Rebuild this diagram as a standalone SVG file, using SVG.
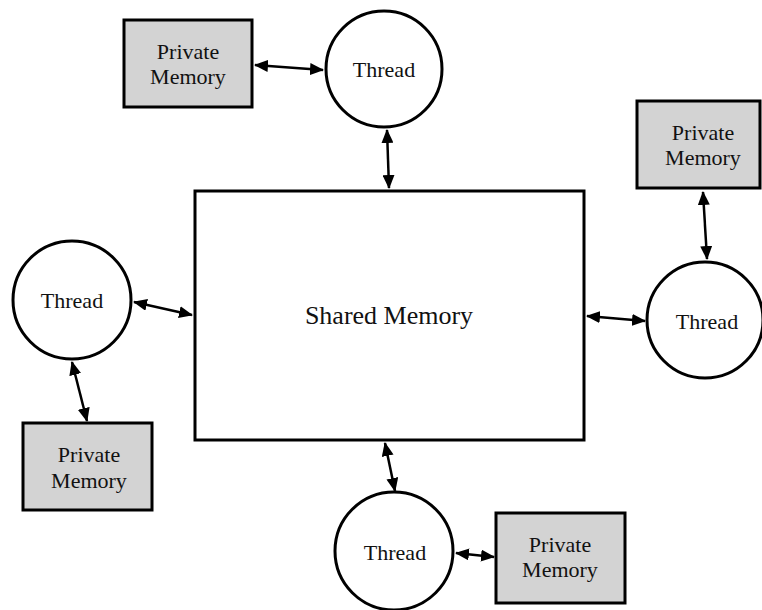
<svg xmlns="http://www.w3.org/2000/svg" width="762" height="610" viewBox="0 0 762 610">
  <defs>
    <marker id="head" viewBox="0 0 14 12" refX="13" refY="6" markerWidth="14" markerHeight="12" markerUnits="userSpaceOnUse" orient="auto-start-reverse">
      <path d="M0,0 L14,6 L0,12 z" fill="#000"/>
    </marker>
  </defs>
  <style>
    .thread { fill: #fff; stroke: #000; stroke-width: 3; }
    .private { fill: #d3d3d3; stroke: #000; stroke-width: 3; }
    .shared { fill: #fff; stroke: #000; stroke-width: 3; }
    .link { stroke: #000; stroke-width: 2.5; fill: none; marker-start: url(#head); marker-end: url(#head); }
    text { font-family: "Liberation Serif", "Times New Roman", serif; fill: #111; text-anchor: middle; }
    .lbl { font-size: 22px; }
    .big { font-size: 26px; }
  </style>
  <rect width="762" height="610" fill="#fff"/>

  <g id="shared-memory">
    <rect class="shared" x="195" y="191" width="389" height="249"/>
    <text class="big" x="389" y="324">Shared Memory</text>
  </g>

  <g id="thread-top">
    <circle class="thread" cx="384" cy="69" r="58"/>
    <text class="lbl" x="384" y="77">Thread</text>
  </g>
  <g id="private-top">
    <rect class="private" x="124" y="20" width="128" height="87"/>
    <text class="lbl" x="188" y="59">Private</text>
    <text class="lbl" x="188" y="84">Memory</text>
  </g>

  <g id="thread-right">
    <circle class="thread" cx="705" cy="320" r="58"/>
    <text class="lbl" x="707" y="329">Thread</text>
  </g>
  <g id="private-right">
    <rect class="private" x="637" y="101" width="123" height="87"/>
    <text class="lbl" x="703" y="140">Private</text>
    <text class="lbl" x="703" y="165">Memory</text>
  </g>

  <g id="thread-left">
    <circle class="thread" cx="72" cy="300" r="59"/>
    <text class="lbl" x="72" y="308">Thread</text>
  </g>
  <g id="private-left">
    <rect class="private" x="23" y="423" width="129" height="87"/>
    <text class="lbl" x="89" y="462">Private</text>
    <text class="lbl" x="89" y="488">Memory</text>
  </g>

  <g id="thread-bottom">
    <circle class="thread" cx="394" cy="551" r="59"/>
    <text class="lbl" x="395" y="560">Thread</text>
  </g>
  <g id="private-bottom">
    <rect class="private" x="496" y="513" width="129" height="90"/>
    <text class="lbl" x="560" y="552">Private</text>
    <text class="lbl" x="560" y="577">Memory</text>
  </g>

  <g id="connectors">
    <line class="link" x1="255" y1="65" x2="323" y2="70"/>
    <line class="link" x1="387" y1="130" x2="389" y2="188"/>
    <line class="link" x1="703" y1="192" x2="707" y2="259"/>
    <line class="link" x1="587" y1="316" x2="645" y2="321"/>
    <line class="link" x1="134" y1="302" x2="192" y2="315"/>
    <line class="link" x1="72" y1="362" x2="87" y2="421"/>
    <line class="link" x1="385" y1="443" x2="395" y2="491"/>
    <line class="link" x1="456" y1="553" x2="494" y2="557"/>
  </g>
</svg>
